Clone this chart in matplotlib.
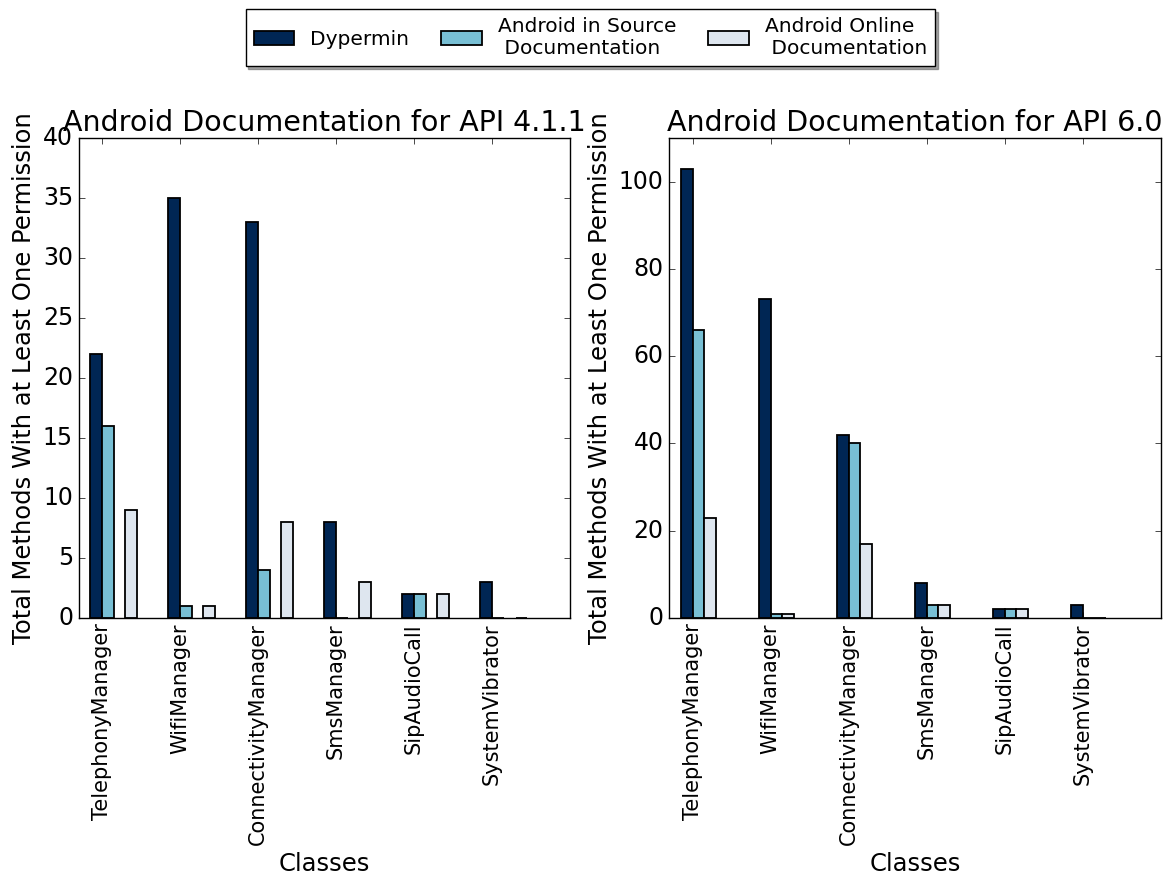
import numpy as np
import matplotlib
matplotlib.use('Agg')
import matplotlib.pyplot as plt

plt.style.use('classic')

classes = ['TelephonyManager', 'WifiManager', 'ConnectivityManager',
           'SmsManager', 'SipAudioCall', 'SystemVibrator']

# API 4.1.1
dypermin_411 = [22, 35, 33, 8, 2, 3]
source_411 = [16, 1, 4, 0, 2, 0]
online_411 = [9, 1, 8, 3, 2, 0]

# API 6.0
dypermin_60 = [103, 73, 42, 8, 2, 3]
source_60 = [66, 1, 40, 3, 2, 0]
online_60 = [23, 1, 17, 3, 2, 0]

labels = ['Dypermin', 'Android in Source\n Documentation', 'Android Online\n Documentation']
colors = ['#002654', '#78bfd4', '#dee6ef']

width = 0.15
ind = np.arange(len(classes))

fig = plt.figure(figsize=(11.76, 8.74), dpi=100, facecolor='white')
ax1 = fig.add_axes([0.0668, 0.293, 0.418, 0.549])
ax2 = fig.add_axes([0.569, 0.293, 0.418, 0.549])


def draw(ax, series, offsets, title, ylim, yticks):
    bars = []
    for vals, off, c in zip(series, offsets, colors):
        b = ax.bar(ind + off * width, vals, width, color=c, edgecolor='black',
                   linewidth=1.3, align='edge')
        bars.append(b)
    ax.set_xlim(-width, len(classes) + width)
    ax.set_ylim(*ylim)
    ax.set_yticks(yticks)
    ax.set_xticks(ind + width)
    ax.set_xticklabels(classes, rotation=90, fontsize=15)
    ax.tick_params(axis='y', labelsize=17)
    ax.set_title(title, fontsize=20.5)
    ax.set_xlabel('Classes', fontsize=17.5)
    ax.set_ylabel('Total Methods With at Least One Permission', fontsize=17.5)
    return bars


bars = draw(ax1, [dypermin_411, source_411, online_411], [0, 1, 3],
            'Android Documentation for API 4.1.1', (0, 40), range(0, 41, 5))
draw(ax2, [dypermin_60, source_60, online_60], [0, 1, 2],
     'Android Documentation for API 6.0', (0, 110), range(0, 101, 20))

fig.legend(bars, labels, loc='upper center', bbox_to_anchor=(0.502, 0.99),
           borderaxespad=0, ncol=3, shadow=True, fancybox=False, fontsize=14.5,
           handlelength=2.0, handletextpad=0.8, columnspacing=1.6)

fig.savefig('out.png', dpi=100, facecolor='white')
